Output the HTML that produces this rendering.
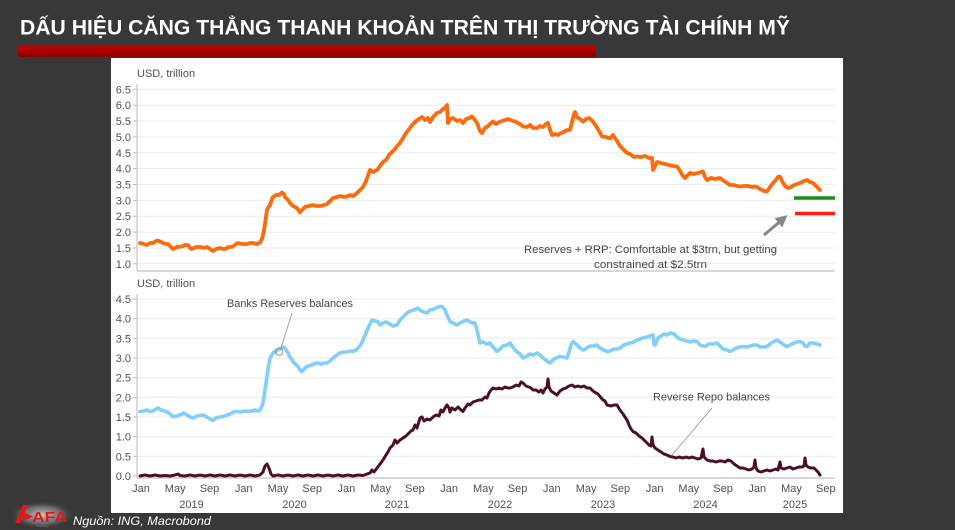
<!DOCTYPE html>
<html><head><meta charset="utf-8"><style>
html,body{margin:0;padding:0;background:#383838;}
svg{display:block;}
</style></head><body>
<svg width="955" height="530" viewBox="0 0 955 530" xmlns="http://www.w3.org/2000/svg">
<defs>
<linearGradient id="rb" x1="0" y1="0" x2="0" y2="1"><stop offset="0" stop-color="#c80000"/><stop offset="1" stop-color="#8c0000"/></linearGradient>
<radialGradient id="glow" cx="0.5" cy="0.5" r="0.5"><stop offset="0" stop-color="#d0d0d0" stop-opacity="0.95"/><stop offset="0.6" stop-color="#909090" stop-opacity="0.6"/><stop offset="1" stop-color="#383838" stop-opacity="0"/></radialGradient>
<marker id="ah" markerWidth="4" markerHeight="4" refX="2" refY="2" orient="auto"><path d="M0,0 L4,2 L0,4 z" fill="#888"/></marker>
</defs>
<rect width="955" height="530" fill="#383838"/>
<text x="20" y="34.5" font-family="Liberation Sans, sans-serif" font-weight="bold" font-size="21" fill="#ffffff" textLength="770" lengthAdjust="spacingAndGlyphs">DẤU HIỆU CĂNG THẲNG THANH KHOẢN TRÊN THỊ TRƯỜNG TÀI CHÍNH MỸ</text>
<rect x="18" y="45" width="578" height="12" rx="2" fill="url(#rb)"/>
<rect x="111" y="58" width="732" height="455" fill="#ffffff"/>

<g font-family="Liberation Sans, sans-serif" font-size="11" fill="#505050">
<!-- top chart -->
<text x="137" y="77">USD, trillion</text>
<g stroke="#ececec" stroke-width="1">
<line x1="137" y1="89.3" x2="835" y2="89.3"/><line x1="137" y1="105.2" x2="835" y2="105.2"/><line x1="137" y1="121" x2="835" y2="121"/><line x1="137" y1="136.9" x2="835" y2="136.9"/><line x1="137" y1="152.8" x2="835" y2="152.8"/><line x1="137" y1="168.6" x2="835" y2="168.6"/><line x1="137" y1="184.5" x2="835" y2="184.5"/><line x1="137" y1="200.4" x2="835" y2="200.4"/><line x1="137" y1="216.2" x2="835" y2="216.2"/><line x1="137" y1="232.1" x2="835" y2="232.1"/><line x1="137" y1="248" x2="835" y2="248"/><line x1="137" y1="263.8" x2="835" y2="263.8"/>
</g>
<g stroke="#b8b8b8" stroke-width="1">
<line x1="137" y1="84" x2="137" y2="271"/>
<line x1="133" y1="89.3" x2="137" y2="89.3"/><line x1="133" y1="105.2" x2="137" y2="105.2"/><line x1="133" y1="121" x2="137" y2="121"/><line x1="133" y1="136.9" x2="137" y2="136.9"/><line x1="133" y1="152.8" x2="137" y2="152.8"/><line x1="133" y1="168.6" x2="137" y2="168.6"/><line x1="133" y1="184.5" x2="137" y2="184.5"/><line x1="133" y1="200.4" x2="137" y2="200.4"/><line x1="133" y1="216.2" x2="137" y2="216.2"/><line x1="133" y1="232.1" x2="137" y2="232.1"/><line x1="133" y1="248" x2="137" y2="248"/><line x1="133" y1="263.8" x2="137" y2="263.8"/>
</g>
<line x1="137" y1="271" x2="835" y2="271" stroke="#cccccc" stroke-width="1.6"/>
<g text-anchor="end">
<text x="131" y="93.3">6.5</text><text x="131" y="109.2">6.0</text><text x="131" y="125">5.5</text><text x="131" y="140.9">5.0</text><text x="131" y="156.8">4.5</text><text x="131" y="172.6">4.0</text><text x="131" y="188.5">3.5</text><text x="131" y="204.4">3.0</text><text x="131" y="220.2">2.5</text><text x="131" y="236.1">2.0</text><text x="131" y="252">1.5</text><text x="131" y="267.8">1.0</text>
</g>

<!-- bottom chart -->
<text x="137" y="287">USD, trillion</text>
<g stroke="#ececec" stroke-width="1">
<line x1="137" y1="299" x2="835" y2="299"/><line x1="137" y1="318.7" x2="835" y2="318.7"/><line x1="137" y1="338.3" x2="835" y2="338.3"/><line x1="137" y1="358" x2="835" y2="358"/><line x1="137" y1="377.7" x2="835" y2="377.7"/><line x1="137" y1="397.3" x2="835" y2="397.3"/><line x1="137" y1="417" x2="835" y2="417"/><line x1="137" y1="436.7" x2="835" y2="436.7"/><line x1="137" y1="456.3" x2="835" y2="456.3"/>
</g>
<g stroke="#b8b8b8" stroke-width="1">
<line x1="137" y1="294" x2="137" y2="478"/>
<line x1="133" y1="299" x2="137" y2="299"/><line x1="133" y1="318.7" x2="137" y2="318.7"/><line x1="133" y1="338.3" x2="137" y2="338.3"/><line x1="133" y1="358" x2="137" y2="358"/><line x1="133" y1="377.7" x2="137" y2="377.7"/><line x1="133" y1="397.3" x2="137" y2="397.3"/><line x1="133" y1="417" x2="137" y2="417"/><line x1="133" y1="436.7" x2="137" y2="436.7"/><line x1="133" y1="456.3" x2="137" y2="456.3"/><line x1="133" y1="476" x2="137" y2="476"/>
</g>
<line x1="137" y1="478" x2="835" y2="478" stroke="#cccccc" stroke-width="1.6"/>
<g text-anchor="end">
<text x="131" y="303">4.5</text><text x="131" y="322.7">4.0</text><text x="131" y="342.3">3.5</text><text x="131" y="362">3.0</text><text x="131" y="381.7">2.5</text><text x="131" y="401.3">2.0</text><text x="131" y="421">1.5</text><text x="131" y="440.7">1.0</text><text x="131" y="460.3">0.5</text><text x="131" y="480">0.0</text>
</g>
<g text-anchor="middle">
<text x="141" y="492">Jan</text><text x="175.2" y="492">May</text><text x="209.5" y="492">Sep</text>
<text x="243.7" y="492">Jan</text><text x="278" y="492">May</text><text x="312.2" y="492">Sep</text>
<text x="346.4" y="492">Jan</text><text x="380.6" y="492">May</text><text x="414.9" y="492">Sep</text>
<text x="449.1" y="492">Jan</text><text x="483.4" y="492">May</text><text x="517.6" y="492">Sep</text>
<text x="551.8" y="492">Jan</text><text x="586.1" y="492">May</text><text x="620.3" y="492">Sep</text>
<text x="654.6" y="492">Jan</text><text x="688.8" y="492">May</text><text x="723.1" y="492">Sep</text>
<text x="757.3" y="492">Jan</text><text x="791.5" y="492">May</text><text x="825.8" y="492">Sep</text>
<text x="191.5" y="508">2019</text><text x="294.5" y="508">2020</text><text x="397" y="508">2021</text><text x="500" y="508">2022</text><text x="603" y="508">2023</text><text x="705.5" y="508">2024</text><text x="795" y="508">2025</text>
</g>
</g>

<!-- Orange series -->
<polyline fill="none" stroke="#ff6a0d" stroke-width="3.8" stroke-linejoin="round" stroke-linecap="round" points="140,243 144,244 147,245 150,243 153,243 156,241 158,240.5 161,242 163,243 166,244 168,244 171,247 173,249 177,247 182,246.5 185,245 188,245 190,248 192,249 196,247 200,247 204,248 207,247 210,249 213,251 216,249 220,248 223,249 225,249 229,247 232,247 235,245 238,243 242,244 247,244 250,243 253,243 257,244 260,242.5 262,239 263,235 265,224 267,210 268.5,207 270,205 272,199 273,197 276,195 279,195 282,192.5 284,194 285,197 288,200 290,203 293,206 297,208 300,212.5 302,210 305,207 309,206 313,205 316,206 320,206 324,205 327,204 330,201 333,198 337,197 340,196 344,197 347,196.5 350,195 353,196 356,194 360,190 363,187 366,181 370,170 373,172 377,170 380,166 383,162 386,160 389,155 392,152 395,149 398,145 400,143 403,138 406,133 410,128 413,124 416,121 419,119 422,117 425,120 428,118 430,122 433,117 437,113 440,112 443,109 445,108 447,105 448,123 450,119 453,118 457,121 460,120 463,123 466,119 469,118 472,116.5 475,120 477,123 480,131 482,133 485,128 488,126 490,124 493,121.5 496,124 499,122 502,121 505,120 508,119 510,120 513,121 516,122 520,124 523,126.5 527,127 530,125 533,128 537,128 540,126 543,127 546,124 548,123 550,130 552,135 555,134 558,135 561,133 564,132 567,130 570,130 572,122 574,114 575,112 577,117 580,119 583,121.5 586,119 589,118 593,121.5 596,126 599,131 602,136.5 606,137 610,138.5 613,135 617,141 620,146 624,150 627,153 630,154 634,157 637,156.5 641,157 645,156 649,158 652,158 653,170 655,166 657,162 661,163 665,164 669,165 673,166 677,166.5 680,171 683,176 685,178 688,175 690,173 694,174 698,173 701,172 703,171.5 705,177 707,180 711,178 715,179 720,178 724,181 727,183 730,185 734,185 737,186 740,186.5 744,186 748,186 752,187 755,186.5 757,187 760,189 764,191 767,191.5 770,187 773,183 776,180 778,177 780,176.5 782,181 785,186 788,188 791,187 794,185 797,184 800,183 804,181 807,180 810,182 813,183 816,186 818,188 820,190"/>

<!-- thresholds -->
<line x1="794" y1="198" x2="835" y2="198" stroke="#1f8a1f" stroke-width="3.5"/>
<line x1="795" y1="213.5" x2="835" y2="213.5" stroke="#ff1c1c" stroke-width="3.5"/>
<line x1="764" y1="235" x2="783" y2="219" stroke="#888" stroke-width="3" marker-end="url(#ah)"/>

<g font-family="Liberation Sans, sans-serif" font-size="11" fill="#444">
<text x="524" y="253" textLength="253" lengthAdjust="spacingAndGlyphs">Reserves + RRP: Comfortable at $3trn, but getting</text>
<text x="594" y="268" textLength="113" lengthAdjust="spacingAndGlyphs">constrained at $2.5trn</text>
<text x="227" y="307" textLength="126" lengthAdjust="spacingAndGlyphs">Banks Reserves balances</text>
<text x="653" y="400.5" textLength="117" lengthAdjust="spacingAndGlyphs">Reverse Repo balances</text>
</g>

<!-- Reserves series -->
<polyline fill="none" stroke="#82cffa" stroke-width="3.6" stroke-linejoin="round" stroke-linecap="round" points="140,411.5 144,411 147,410 150,411.5 153,411 156,409 158,408 161,410 165,411 169,413 173,416.5 177,416 180,415 184,413 187,415 190,417 193,418 197,416 200,415.5 203,415 207,417 210,419 213,420.5 216,418 220,417 223,416.5 227,415 230,414 234,412 237,411.5 241,412 245,411 248,411.5 252,411 255,410 258,411 260,410 262,406 263,403 265,390 267,376.5 268.5,366 270,358 273,353 277,350 280,349 283,347 285,348 288,353 290,357 292,360 295,364 298,366.5 300,370 302,371.5 305,368 307,366.5 311,365 314,364 317,363 321,364 324,363 327,363 330,361 333,358 337,355 340,353 344,352 347,352 350,351 353,351.5 356,350 360,346 363,340 366,333 369,326 372,320 375,321 378,322 380,325 383,323 386,322 390,324 393,326 397,325 400,320 403,317 407,313 410,311 414,310 418,308 421,311 424,312 427,313 430,310 434,309 438,307 442,306.5 445,310 447,315 450,321.5 453,323 457,325 460,323 464,321 467,320 470,322 473,323 475,323 477,330 480,343 483,342 487,344 490,343 493,347 497,351.5 500,349 503,346 507,345 510,343 513,347 516,351 520,354 523,358 527,356 530,354 533,355 537,353 540,355 543,358 547,361 550,363 553,360 556,358 560,356.5 563,357 567,358 569,352 571,345 573,341.5 576,344 580,348 583,350 587,348 590,346 594,346 597,345 600,348 604,350 607,351.5 610,351 614,349 617,349 620,348 624,345 627,344 630,343 634,342 637,340 640,339 643,338 647,337 650,336 653,335 654,344 655,345 658,338 661,336 664,334 667,335 670,333 674,334 677,337 680,339 683,340 687,341 690,342 693,341 697,341.5 700,345 703,346 705,346.5 709,344 713,344 717,343 720,346 723,349 727,350 730,351.5 733,350 736,348 740,347 743,346.5 747,347 750,346 754,345 757,345 760,347 764,347 767,346.5 770,344 773,342 777,340 780,342 784,345 787,346.5 790,345 794,343 797,342 800,341.5 803,343 805,346 807,346.5 810,343 813,343 817,344 820,345"/>

<!-- RRP series -->
<polyline fill="none" stroke="#4d0f22" stroke-width="3" stroke-linejoin="round" stroke-linecap="round" points="140,476 145,475 150,476 155,475 160,476 165,475.5 170,476 175,475 178,474 180,475.5 185,476 190,475 195,476 200,475 205,476 210,475 215,476 220,475 225,476 230,475 235,476 240,475 245,476 250,475 255,476 260,475 263,472 265,466 267,464 269,468 271,474 273,476 278,475 283,476 288,475 293,476 298,475 303,476 308,475 313,476 318,475 323,476 328,475 333,476 338,475 343,476 348,475 353,476 358,475 363,475.5 367,474 370,473 372,470 374,472 377,468 380,464 383,460 386,455 388,452 390,448 393,445 395,440 397,443 400,440 403,438 406,436 409,433 411,431 413,430 415,425 417,428 420,418 422,417 424,421 427,419 430,420 433,417 436,415 439,416 441,410 443,412 445,408 447,405 449,408 450,412 452,408 455,410 458,407 461,410 463,411.5 465,408 468,404 470,405 473,402 476,401 479,400 482,400 485,397 487,398 489,393 491,390 493,388 496,389 499,388 502,389 505,387 508,388 510,388 513,387 516,385 519,386 521,382 523,383 526,386 529,387 531,388 533,390 536,390 539,392 541,390 543,393 545,389 547,387 548,379 549,387 551,391 554,393 557,395 560,391 563,389 566,388 569,386 572,385 575,387 578,386 581,387 584,386 587,388 590,388 593,391 596,393 598,394 600,396.5 603,400 605,401 607,405 611,406 614,405 617,405 620,410 623,414 625,417 627,420 629,425 631,429 633,431.5 636,433 639,436 642,438 645,441 647,443 649,445 651,446 652,437 653,445 655,448 658,450 661,452 664,454 667,455 670,456.5 673,457 676,458 679,457 683,458 686,457 689,458 692,457 695,458 698,459 701,458 703,449 704,457 707,460 710,461 713,461 716,462 719,461 722,461 725,462 728,460 731,461 734,464 737,466 740,468 743,468 746,469 749,470 752,469 754,467 755,460 756,468 758,471 761,472 764,471 767,470 770,471 773,470 776,469 778,470 780,462 781,468 784,469 787,468 790,467 793,469 796,468 799,467 802,467 804,466 805,458 806,465 808,467 811,468 814,468 816,470 818,472 820,475"/>

<!-- leader lines -->
<line x1="292" y1="313" x2="281" y2="348" stroke="#999" stroke-width="0.9"/>
<circle cx="279.3" cy="351.7" r="3.6" fill="none" stroke="#888" stroke-width="0.9"/>
<line x1="712" y1="408" x2="672" y2="455" stroke="#999" stroke-width="0.9"/>

<!-- footer logo -->
<ellipse cx="42" cy="515" rx="32" ry="14" fill="url(#glow)"/>
<path d="M15,523 L23,505 L28,505 L20,523 Z" fill="#e01818"/>
<path d="M23,512 L33,516.5 L23,521 Z" fill="#e01818"/>
<text x="32" y="522" font-family="Liberation Sans, sans-serif" font-weight="bold" font-size="15" fill="#e01818" textLength="35" lengthAdjust="spacingAndGlyphs">AFA</text>
<text x="36" y="527" font-family="Liberation Sans, sans-serif" font-size="3" fill="#777">CAPITAL</text>
<text x="73" y="525" font-family="Liberation Sans, sans-serif" font-style="italic" font-size="11.5" fill="#ffffff" textLength="138" lengthAdjust="spacingAndGlyphs">Nguồn: ING, Macrobond</text>
</svg>
</body></html>
